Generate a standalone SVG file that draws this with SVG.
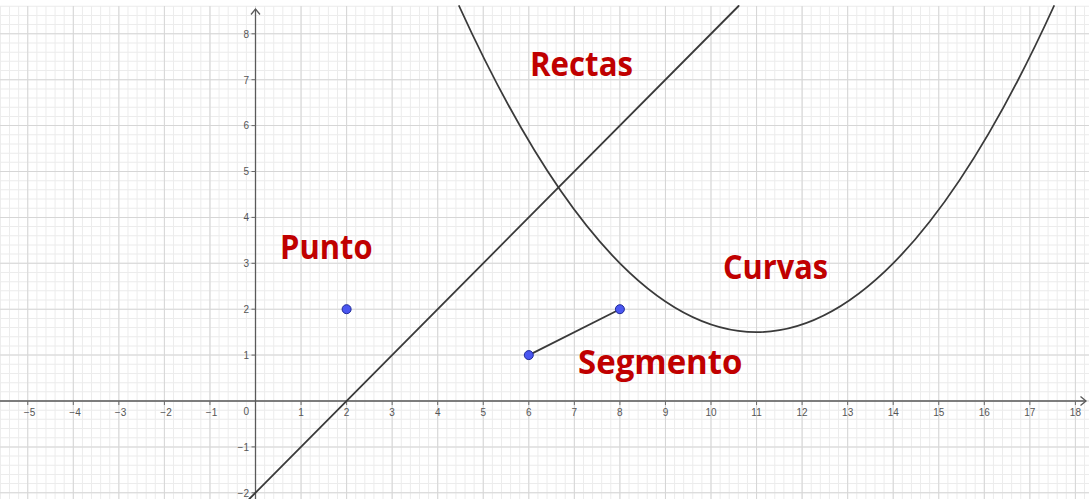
<svg xmlns="http://www.w3.org/2000/svg" width="1089" height="499" viewBox="0 0 1089 499">
  <style>
    .minor { stroke: #ececec; fill: none; }
    .major { stroke: #d6d6d6; fill: none; }
    .axis { stroke: #5a5a5a; stroke-width: 1.3; fill: none; }
    .tick { stroke: #6a6a6a; stroke-width: 1; }
    .num { font-family: "Liberation Sans", Arial, sans-serif; font-size: 10px; fill: #555555; }
    .xn { text-anchor: middle; }
    .yn { text-anchor: end; }
    .curve { stroke: #3a3a3a; stroke-width: 1.8; fill: none; stroke-linecap: round; }
    .pt { fill: #4a56f0; stroke: #1f2a99; stroke-width: 1; }
    .lbl { font-family: "Open Sans", "Noto Sans", sans-serif; font-weight: bold; font-size: 34px; fill: #c00000; }
  </style>
  <rect x="0" y="0" width="1089" height="499" fill="#ffffff"/>
  <g id="grid">
    <!-- minor vertical lines every 0.2 units (9.11 px) -->
    <line class="minor" x1="-0.08" y1="252.5" x2="1089" y2="252.5" stroke-width="493" stroke-dasharray="1 8.11"/>
    <!-- minor horizontal lines every 0.2 units (9.18 px) -->
    <line class="minor" x1="544.5" y1="5.76" x2="544.5" y2="499" stroke-width="1089" stroke-dasharray="1 8.18"/>
    <!-- major vertical lines -->
    <line class="major" x1="27.25" y1="252.5" x2="1089" y2="252.5" stroke-width="493" stroke-dasharray="1 44.55"/>
    <!-- major horizontal lines -->
    <line class="major" x1="544.5" y1="33.3" x2="544.5" y2="499" stroke-width="1089" stroke-dasharray="1 44.9"/>
  </g>
  <g id="axes">
    <line class="axis" x1="0" y1="401" x2="1086" y2="401"/>
    <path class="axis" d="M1080.5,396.5 L1086,401 L1080.5,405.5"/>
    <line class="axis" x1="255.5" y1="499" x2="255.5" y2="9"/>
    <path class="axis" d="M251,14.5 L255.5,9 L260,14.5"/>
    <path class="tick" d="M27.75,401v4M73.3,401v4M118.85,401v4M164.4,401v4M209.95,401v4M301.05,401v4M346.6,401v4M392.15,401v4M437.7,401v4M483.25,401v4M528.8,401v4M574.35,401v4M619.9,401v4M665.45,401v4M711,401v4M756.55,401v4M802.1,401v4M847.65,401v4M893.2,401v4M938.75,401v4M984.3,401v4M1029.85,401v4M1075.4,401v4"/>
    <path class="tick" d="M255.5,33.8h-4M255.5,79.7h-4M255.5,125.6h-4M255.5,171.5h-4M255.5,217.4h-4M255.5,263.3h-4M255.5,309.2h-4M255.5,355.1h-4M255.5,446.9h-4M255.5,492.8h-4"/>
  </g>
  <g id="axis-numbers">
    <text class="num xn" x="29.5" y="416">−5</text>
    <text class="num xn" x="75" y="416">−4</text>
    <text class="num xn" x="120.5" y="416">−3</text>
    <text class="num xn" x="166" y="416">−2</text>
    <text class="num xn" x="211.5" y="416">−1</text>
    <text class="num xn" x="301.05" y="416">1</text>
    <text class="num xn" x="346.6" y="416">2</text>
    <text class="num xn" x="392.15" y="416">3</text>
    <text class="num xn" x="437.7" y="416">4</text>
    <text class="num xn" x="483.25" y="416">5</text>
    <text class="num xn" x="528.8" y="416">6</text>
    <text class="num xn" x="574.35" y="416">7</text>
    <text class="num xn" x="619.9" y="416">8</text>
    <text class="num xn" x="665.45" y="416">9</text>
    <text class="num xn" x="711" y="416">10</text>
    <text class="num xn" x="756.55" y="416">11</text>
    <text class="num xn" x="802.1" y="416">12</text>
    <text class="num xn" x="847.65" y="416">13</text>
    <text class="num xn" x="893.2" y="416">14</text>
    <text class="num xn" x="938.75" y="416">15</text>
    <text class="num xn" x="984.3" y="416">16</text>
    <text class="num xn" x="1029.85" y="416">17</text>
    <text class="num xn" x="1075.4" y="416">18</text>
    <text class="num yn" x="249" y="415">0</text>
    <text class="num yn" x="249" y="37.6">8</text>
    <text class="num yn" x="249" y="83.5">7</text>
    <text class="num yn" x="249" y="129.4">6</text>
    <text class="num yn" x="249" y="175.3">5</text>
    <text class="num yn" x="249" y="221.2">4</text>
    <text class="num yn" x="249" y="267.1">3</text>
    <text class="num yn" x="249" y="313">2</text>
    <text class="num yn" x="249" y="358.9">1</text>
    <text class="num yn" x="249" y="451">−1</text>
    <text class="num yn" x="249" y="497">−2</text>
  </g>
  <g id="connectors">
    <path id="recta" class="curve" d="M249.3,499 L738.6,6"/>
    <path id="curva" class="curve" d="M459.1,6 Q756.55,658.3 1053.96,6"/>
    <line id="segmento" class="curve" x1="528.8" y1="355.1" x2="619.9" y2="309.2"/>
  </g>
  <g id="point-A"><circle class="pt" cx="346.6" cy="309.2" r="4.5"/></g>
  <g id="point-B"><circle class="pt" cx="528.8" cy="355.1" r="4.5"/></g>
  <g id="point-C"><circle class="pt" cx="619.9" cy="309.2" r="4.5"/></g>
  <g id="label-rectas"><text class="lbl" x="530" y="76" textLength="103" lengthAdjust="spacingAndGlyphs">Rectas</text></g>
  <g id="label-punto"><text class="lbl" x="280" y="258.5" textLength="92.5" lengthAdjust="spacingAndGlyphs">Punto</text></g>
  <g id="label-segmento"><text class="lbl" x="578" y="373.5" textLength="164.5" lengthAdjust="spacingAndGlyphs">Segmento</text></g>
  <g id="label-curvas"><text class="lbl" x="723" y="278.5" textLength="105" lengthAdjust="spacingAndGlyphs">Curvas</text></g>
</svg>
